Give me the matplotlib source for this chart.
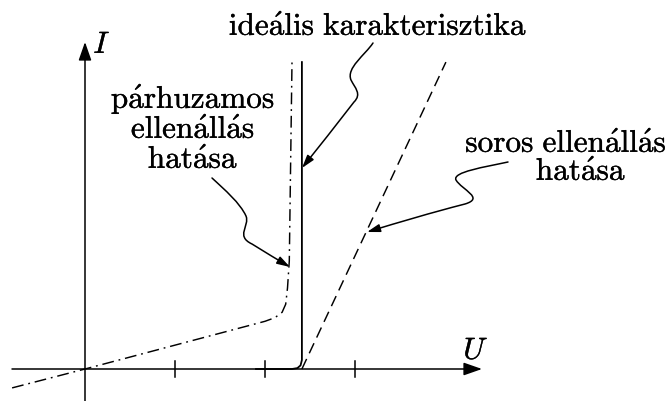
import numpy as np
import matplotlib
matplotlib.use('Agg')
import matplotlib.pyplot as plt
import matplotlib.patheffects as pe
from matplotlib.path import Path
from matplotlib.patches import FancyArrowPatch

plt.rcParams['mathtext.fontset'] = 'cm'
plt.rcParams['lines.scale_dashes'] = False

# tengely beosztások (U egységekben)
ticks_u = [1, 2, 3]

# ideális karakterisztika
ideal_u = [1.90, 2.30, 2.36, 2.395, 2.41, 2.41]
ideal_i = [0.00, 0.00, 0.01, 0.04, 0.10, 3.41]

# soros ellenállás hatása
series_u = [2.41, 4.01]
series_i = [0.00, 3.41]

# párhuzamos ellenállás hatása
par_u = [-0.81, 0.00, 2.00, 2.11, 2.19, 2.23, 2.25, 2.27, 2.30]
par_i = [-0.21, 0.00, 0.53, 0.57, 0.63, 0.72, 0.90, 1.20, 3.41]

PX0, PY0, SC = 85, 369, 90  # origó helye és egységnyi hossz pixelben


def px(x, y):
    return ((x - PX0) / SC, (PY0 - y) / SC)


def snake(pts):
    # pts: kezdőpont, majd hármas csoportokban bezier kontrollpontok
    verts = [px(*p) for p in pts]
    codes = [Path.MOVETO] + [Path.CURVE4] * (len(verts) - 1)
    return Path(verts, codes)


fig = plt.figure(figsize=(6.69, 4.01), dpi=100)
ax = fig.add_axes([0, 0, 1, 1])
ax.set_xlim(-PX0 / SC, (669 - PX0) / SC)
ax.set_ylim((PY0 - 401) / SC, PY0 / SC)
ax.axis('off')

# tengelyek
ax.add_patch(FancyArrowPatch(px(12, 369), px(482, 369), arrowstyle='-|>,head_length=0.8,head_width=0.28',
                             mutation_scale=14, lw=1.1, color='black', shrinkA=0, shrinkB=0))
ax.add_patch(FancyArrowPatch(px(85, 401), px(85, 42), arrowstyle='-|>,head_length=0.8,head_width=0.28',
                             mutation_scale=14, lw=1.1, color='black', shrinkA=0, shrinkB=0))
for t in ticks_u:
    ax.plot([t, t], [-0.09, 0.09], color='black', lw=1.1)

bold = [pe.withStroke(linewidth=0.25, foreground='black')]
ax.text(*px(102, 53), r'$I$', fontsize=22, ha='center', va='baseline', path_effects=bold)
ax.text(*px(476, 359), r'$U$', fontsize=22, ha='center', va='baseline', path_effects=bold)

# görbék
ax.plot(ideal_u, ideal_i, color='black', lw=1.3, solid_joinstyle='round')
ax.plot(series_u, series_i, color='black', lw=1.05, dashes=(8, 4.5), dash_capstyle='butt')
ax.plot(par_u, par_i, color='black', lw=1.05, dashes=(8.5, 3.5, 1.3, 3.5))

# feliratok
txt = dict(fontsize=22.5, ha='center', va='baseline', color='black', path_effects=bold)
ax.text(*px(378, 35), r'$\mathrm{ide\acute{a}lis\ karakterisztika}$', **txt)
ax.text(*px(193, 108), r'$\mathrm{p\acute{a}rhuzamos}$', **txt)
ax.text(*px(193, 138), r'$\mathrm{ellen\acute{a}ll\acute{a}s}$', **txt)
ax.text(*px(193, 168), r'$\mathrm{hat\acute{a}sa}$', **txt)
ax.text(*px(566, 152), r'$\mathrm{soros\ ellen\acute{a}ll\acute{a}s}$', **txt)
ax.text(*px(581, 180), r'$\mathrm{hat\acute{a}sa}$', **txt)

# kígyózó mutató nyilak
arrows = [
    [(373, 43), (365, 55), (346, 68), (351, 80),
     (355, 88), (362, 94), (354, 102),
     (337, 124), (318, 148), (302, 168)],
    [(212, 178), (225, 190), (240, 203), (246, 216),
     (250, 226), (235, 236), (252, 244),
     (265, 252), (278, 260), (290, 267)],
    [(508, 162), (485, 167), (452, 172), (456, 180),
     (462, 190), (485, 198), (465, 204),
     (430, 213), (400, 222), (367, 232)],
]
for a in arrows:
    ax.add_patch(FancyArrowPatch(path=snake(a), arrowstyle='-|>,head_length=0.65,head_width=0.2',
                                 mutation_scale=12, lw=1.1, color='black'))

fig.savefig('out.png', dpi=100)
